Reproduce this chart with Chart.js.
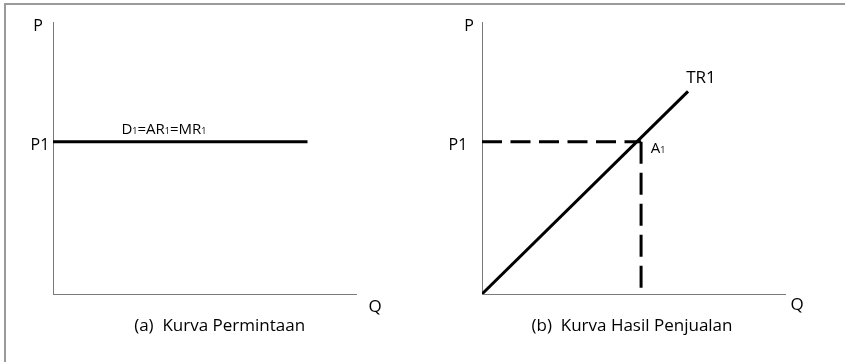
<!DOCTYPE html>
<html>
<head>
<meta charset="utf-8">
<script src="https://cdn.jsdelivr.net/npm/chart.js@4.4.1/dist/chart.umd.min.js"></script>
<style>
    html, body { margin: 0; padding: 0; background: #fff; }
    #frame { position: absolute; left: 4px; top: 3px; width: 845px; height: 362px;
             border-left: 2px solid #9a9a9a; border-top: 2px solid #9a9a9a; }
    canvas { position: absolute; top: 0; }
</style>
</head>
<body>
<div id="frame"></div>
<canvas id="chartA" width="420" height="362" style="left:0"></canvas>
<canvas id="chartB" width="425" height="362" style="left:420px"></canvas>
<script>
// axis ranges (both panels)
const qMax = 10;
const pMax = 10;
const p1 = 5.6;
const q1 = 5.25;

// (a) demand curve D1 = AR1 = MR1
const demandQ = [0, 8.4];
const demandP = [p1, p1];

// (b) total revenue TR1 and guide lines to A1
const trQ = [0, 6.8];
const trP = [0, 7.45];
const guideHQ = [0, q1];
const guideHP = [p1, p1];
const guideVQ = [q1, q1];
const guideVP = [p1, 0.22];

const FONT = '"Open Sans", "Noto Sans", sans-serif';
const INK = '#000';

function pts(qs, ps) {
    return qs.map((q, i) => ({ x: q, y: ps[i] }));
}

// draws a label made of normal and subscript runs
function drawRich(ctx, parts, cx, cy, size) {
    const subSize = Math.round(size * 0.62);
    let total = 0;
    parts.forEach(p => {
        ctx.font = (p.sub ? subSize : size) + 'px ' + FONT;
        p.w = ctx.measureText(p.t).width;
        total += p.w;
    });
    let x = cx - total / 2;
    const base = cy + size * 0.36;
    parts.forEach(p => {
        ctx.font = (p.sub ? subSize : size) + 'px ' + FONT;
        ctx.textAlign = 'left';
        ctx.textBaseline = 'alphabetic';
        ctx.fillText(p.t, x, base);
        x += p.w;
    });
}

const textLabels = {
    id: 'textLabels',
    afterDraw(chart, args, opts) {
        const { ctx, scales: { x, y } } = chart;
        ctx.save();
        ctx.fillStyle = INK;
        opts.items.forEach(item => {
            const cx = x.getPixelForValue(item.q) + (item.dx || 0);
            const cy = y.getPixelForValue(item.p) + (item.dy || 0);
            drawRich(ctx, item.parts, cx, cy, item.size || 16);
        });
        ctx.restore();
    }
};

function axes() {
    const axis = {
        type: 'linear',
        min: 0,
        ticks: { display: false },
        grid: { display: false, drawTicks: false },
        border: { display: true, color: '#7a7a7a', width: 1 }
    };
    return {
        x: Object.assign({}, axis, { max: qMax }),
        y: Object.assign({}, axis, { max: pMax })
    };
}

function lineSet(data, dash) {
    return {
        data: data,
        borderColor: '#000',
        borderWidth: 3,
        borderDash: dash || [],
        pointRadius: 0,
        fill: false,
        tension: 0
    };
}

function makeChart(id, padding, datasets, items) {
    return new Chart(document.getElementById(id), {
        type: 'line',
        data: { datasets: datasets },
        options: {
            responsive: false,
            animation: false,
            layout: { padding: padding },
            scales: axes(),
            plugins: {
                legend: { display: false },
                tooltip: { enabled: false },
                textLabels: { items: items }
            }
        },
        plugins: [textLabels]
    });
}

const T = s => [{ t: s }];

makeChart('chartA', { left: 53, top: 22, right: 64, bottom: 68 },
    [lineSet(pts(demandQ, demandP))],
    [
        { parts: T('P'), q: 0, p: pMax, dx: -15, dy: 3 },
        { parts: T('P1'), q: 0, p: p1, dx: -13, dy: 3 },
        { parts: [{ t: 'D' }, { t: '1', sub: true }, { t: '=AR' }, { t: '1', sub: true },
                  { t: '=MR' }, { t: '1', sub: true }], q: 3.66, p: p1, dx: 0, dy: -13, size: 15 },
        { parts: T('Q'), q: qMax, p: 0, dx: 19, dy: 12, size: 17 },
        { parts: T('(a)  Kurva Permintaan'), q: 5.5, p: 0, dx: 0, dy: 31, size: 17 }
    ]);

makeChart('chartB', { left: 62, top: 22, right: 60, bottom: 68 },
    [
        lineSet(pts(trQ, trP)),
        lineSet(pts(guideHQ, guideHP), [20, 8.5]),
        lineSet(pts(guideVQ, guideVP), [22, 9])
    ],
    [
        { parts: T('P'), q: 0, p: pMax, dx: -13, dy: 3 },
        { parts: T('P1'), q: 0, p: p1, dx: -24, dy: 3 },
        { parts: T('TR1'), q: trQ[1], p: trP[1], dx: 13, dy: -14, size: 17 },
        { parts: [{ t: 'A' }, { t: '1', sub: true }], q: q1, p: p1, dx: 17, dy: 6, size: 15 },
        { parts: T('Q'), q: qMax, p: 0, dx: 12, dy: 10, size: 17 },
        { parts: T('(b)  Kurva Hasil Penjualan'), q: 4.95, p: 0, dx: 0, dy: 31, size: 17 }
    ]);
</script>
</body>
</html>
